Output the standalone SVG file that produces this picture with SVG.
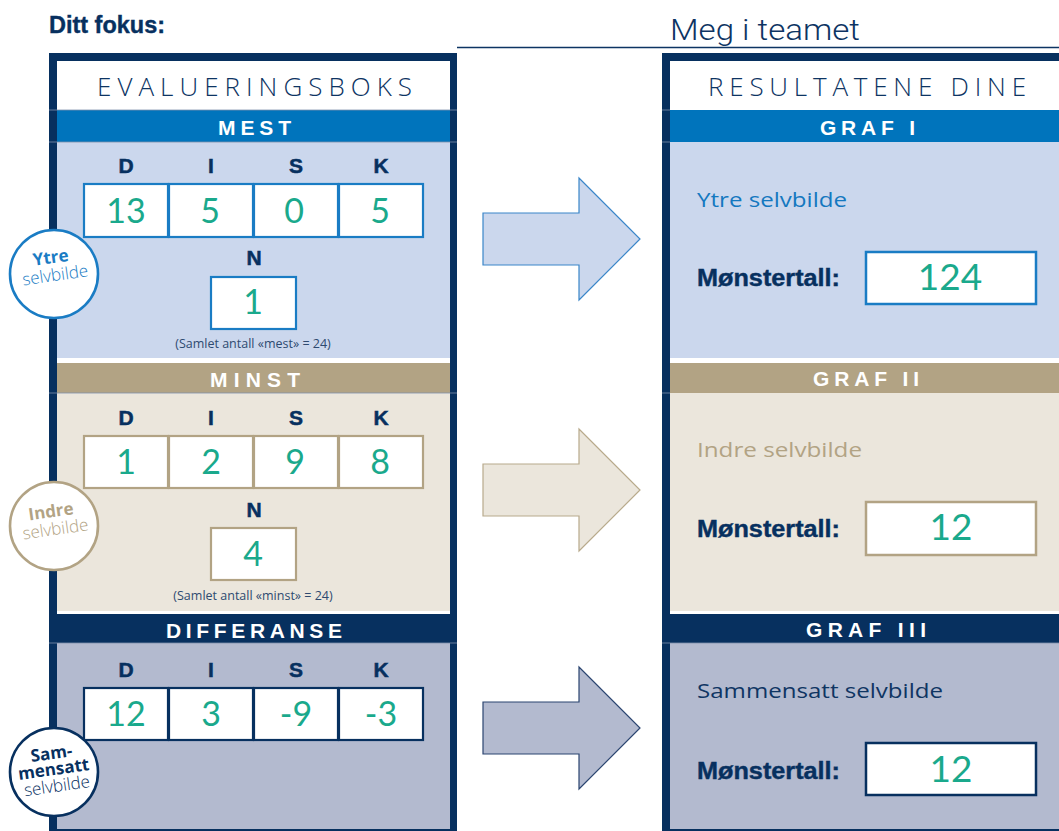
<svg xmlns="http://www.w3.org/2000/svg" width="1059" height="831" viewBox="0 0 1059 831">
<style>
.navy{fill:#07305f}
.hdr{font-family:"Open Sans","Liberation Sans",sans-serif;font-weight:300;font-size:26px;fill:#0d3463}
.bar{font-family:"Liberation Sans",Arial,sans-serif;font-weight:bold;font-size:21px;fill:#ffffff}
.disk{font-family:"Liberation Sans",Arial,sans-serif;font-weight:bold;font-size:21px;fill:#07305f;text-anchor:middle;stroke:#07305f;stroke-width:0.5}
.hand{font-family:"Lato","Open Sans",sans-serif;font-weight:400;font-size:34px;fill:#1aa98c;text-anchor:middle}
.handb{font-family:"Lato","Open Sans",sans-serif;font-weight:400;font-size:37px;fill:#1aa98c;text-anchor:middle}
.cap{font-family:"Open Sans","Liberation Sans",sans-serif;font-size:12.5px;fill:#2e4a70;text-anchor:middle}
.cb{stroke:#1a7cc4;stroke-width:2.2;fill:#fff}
.ct{stroke:#b2a384;stroke-width:2.2;fill:#fff}
.cn{stroke:#07305f;stroke-width:2.2;fill:#fff}
.lab{font-family:"Open Sans","Liberation Sans",sans-serif;font-size:20px}
.mon{font-family:"Liberation Sans",Arial,sans-serif;font-weight:bold;font-size:23px;fill:#07305f;stroke:#07305f;stroke-width:0.4}
.cbold{font-family:"Open Sans","Liberation Sans",sans-serif;font-weight:bold;font-size:17px;text-anchor:middle}
.clight{font-family:"Open Sans","Liberation Sans",sans-serif;font-weight:300;font-size:17px;text-anchor:middle}
.faint{stroke:#7d90ab;stroke-width:0.8}
</style>

<!-- Title -->
<g id="title">
<text x="49" y="33" textLength="116" lengthAdjust="spacingAndGlyphs" style="font-family:'Liberation Sans',Arial,sans-serif;font-weight:bold;font-size:24px;fill:#07305f;stroke:#07305f;stroke-width:0.4">Ditt fokus:</text>
<text x="670" y="40" textLength="190" lengthAdjust="spacingAndGlyphs" style="font-family:Roboto,'Liberation Sans',sans-serif;font-weight:300;font-size:30px;fill:#0d3463">Meg i teamet</text>
<line x1="457" y1="47.5" x2="1059" y2="47.5" stroke="#0d3463" stroke-width="1.5"/>
</g>

<!-- Left panel -->
<g id="evalueringsboks">
<rect x="49" y="53" width="408" height="778" class="navy"/>
<rect x="57" y="61" width="393" height="768" fill="#ffffff"/>
<rect x="57" y="110" width="393" height="32" fill="#0074bc"/>
<rect x="57" y="142" width="393" height="216" fill="#cbd7ed"/>
<rect x="57" y="363" width="393" height="30" fill="#b2a384"/>
<rect x="57" y="393" width="393" height="218" fill="#ebe6dc"/>
<rect x="57" y="614" width="393" height="29" class="navy"/>
<rect x="57" y="643" width="393" height="186" fill="#b3bacf"/>
<line x1="49" y1="110" x2="457" y2="110" class="faint"/>
<line x1="49" y1="142" x2="457" y2="142" class="faint"/>
<line x1="49" y1="393" x2="457" y2="393" class="faint"/>
<line x1="49" y1="643" x2="457" y2="643" class="faint"/>
<text x="97" y="96" textLength="315" lengthAdjust="spacing" class="hdr">EVALUERINGSBOKS</text>
<text x="218" y="135" textLength="73" lengthAdjust="spacing" class="bar">MEST</text>
<text x="210" y="386.5" textLength="90" lengthAdjust="spacing" class="bar">MINST</text>
<text x="166" y="637.5" textLength="176" lengthAdjust="spacing" class="bar">DIFFERANSE</text>
</g>

<!-- MEST section -->
<g id="mest">
<text x="126" y="173" class="disk">D</text>
<text x="211" y="173" class="disk">I</text>
<text x="296" y="173" class="disk">S</text>
<text x="381" y="173" class="disk">K</text>
<rect x="84" y="184" width="84" height="53" class="cb"/>
<rect x="169" y="184" width="84" height="53" class="cb"/>
<rect x="254" y="184" width="84" height="53" class="cb"/>
<rect x="339" y="184" width="84" height="53" class="cb"/>
<text x="126" y="223" class="hand">13</text>
<text x="210" y="223" class="hand">5</text>
<text x="294" y="223" class="hand">0</text>
<text x="380" y="223" class="hand">5</text>
<text x="254" y="265" class="disk">N</text>
<rect x="211" y="277" width="85" height="52" class="cb"/>
<text x="253" y="314" class="hand">1</text>
<text x="253" y="348" class="cap">(Samlet antall «mest» = 24)</text>
</g>

<!-- MINST section -->
<g id="minst">
<text x="126" y="425" class="disk">D</text>
<text x="211" y="425" class="disk">I</text>
<text x="296" y="425" class="disk">S</text>
<text x="381" y="425" class="disk">K</text>
<rect x="84" y="436" width="84" height="52" class="ct"/>
<rect x="169" y="436" width="84" height="52" class="ct"/>
<rect x="254" y="436" width="84" height="52" class="ct"/>
<rect x="339" y="436" width="84" height="52" class="ct"/>
<text x="126" y="474" class="hand">1</text>
<text x="211" y="474" class="hand">2</text>
<text x="295" y="474" class="hand">9</text>
<text x="380" y="474" class="hand">8</text>
<text x="254" y="517" class="disk">N</text>
<rect x="211" y="528" width="85" height="52" class="ct"/>
<text x="253" y="566" class="hand">4</text>
<text x="253" y="600" class="cap">(Samlet antall «minst» = 24)</text>
</g>

<!-- DIFFERANSE section -->
<g id="differanse">
<text x="126" y="677" class="disk">D</text>
<text x="211" y="677" class="disk">I</text>
<text x="296" y="677" class="disk">S</text>
<text x="381" y="677" class="disk">K</text>
<rect x="84" y="688" width="84" height="52" class="cn"/>
<rect x="169" y="688" width="84" height="52" class="cn"/>
<rect x="254" y="688" width="84" height="52" class="cn"/>
<rect x="339" y="688" width="84" height="52" class="cn"/>
<text x="126" y="726" class="hand">12</text>
<text x="211" y="726" class="hand">3</text>
<text x="296" y="726" class="hand">-9</text>
<text x="381" y="726" class="hand">-3</text>
</g>

<!-- Circles -->
<g id="circle-ytre">
<circle cx="54" cy="274" r="44" fill="#fff" stroke="#1a7cc4" stroke-width="2.6"/>
<g transform="rotate(-8 54 274)">
<text x="53" y="263" class="cbold" fill="#1a7cc4">Ytre</text>
<text x="55" y="281" class="clight" fill="#1a7cc4">selvbilde</text>
</g>
</g>
<g id="circle-indre">
<circle cx="54" cy="526" r="44" fill="#fff" stroke="#b2a384" stroke-width="2.6"/>
<g transform="rotate(-8 54 526)">
<text x="53" y="517" class="cbold" fill="#b2a384">Indre</text>
<text x="55" y="535" class="clight" fill="#b2a384">selvbilde</text>
</g>
</g>
<g id="circle-sammensatt">
<circle cx="54" cy="772" r="44" fill="#fff" stroke="#07305f" stroke-width="2.6"/>
<g transform="rotate(-8 54 772)">
<text x="54" y="759" class="cbold" fill="#07305f">Sam-</text>
<text x="54" y="775" class="cbold" fill="#07305f">mensatt</text>
<text x="55" y="792" class="clight" fill="#07305f">selvbilde</text>
</g>
</g>

<!-- Connectors (arrows) -->
<g id="connectors">
<polygon points="483,213 579,213 579,178 640,239 579,300 579,265 483,265" fill="#cbd7ed" stroke="#3a86c9" stroke-width="1.2"/>
<polygon points="483,464 579,464 579,429 640,490 579,551 579,516 483,516" fill="#ebe6dc" stroke="#b8aa8c" stroke-width="1.2"/>
<polygon points="483,702 579,702 579,667 640,728 579,789 579,754 483,754" fill="#b3bacf" stroke="#2b4570" stroke-width="1.2"/>
</g>

<!-- Right panel -->
<g id="resultatene">
<rect x="662" y="53" width="420" height="778" class="navy"/>
<rect x="670" y="61" width="412" height="768" fill="#ffffff"/>
<rect x="670" y="110" width="412" height="32" fill="#0074bc"/>
<rect x="670" y="142" width="412" height="216" fill="#cbd7ed"/>
<rect x="670" y="363" width="412" height="30" fill="#b2a384"/>
<rect x="670" y="393" width="412" height="218" fill="#ebe6dc"/>
<rect x="670" y="614" width="412" height="29" class="navy"/>
<rect x="670" y="643" width="412" height="186" fill="#b3bacf"/>
<line x1="662" y1="110" x2="670" y2="110" class="faint"/>
<line x1="662" y1="142" x2="670" y2="142" class="faint"/>
<line x1="662" y1="393" x2="670" y2="393" class="faint"/>
<line x1="662" y1="643" x2="1059" y2="643" class="faint"/>
<text x="708" y="96" textLength="318" lengthAdjust="spacing" class="hdr">RESULTATENE DINE</text>
<text x="820" y="134.5" textLength="95" lengthAdjust="spacing" class="bar">GRAF I</text>
<text x="813" y="386" textLength="106" lengthAdjust="spacing" class="bar">GRAF II</text>
<text x="806" y="637" textLength="120" lengthAdjust="spacing" class="bar">GRAF III</text>
</g>

<g id="graf1">
<text x="697" y="207" textLength="150" lengthAdjust="spacingAndGlyphs" class="lab" fill="#1478c0">Ytre selvbilde</text>
<text x="697" y="286" textLength="143" lengthAdjust="spacingAndGlyphs" class="mon">Mønstertall:</text>
<rect x="866" y="252" width="170" height="52" fill="#fff" stroke="#1a7cc4" stroke-width="2.5"/>
<text x="950" y="290" class="handb">124</text>
</g>
<g id="graf2">
<text x="697" y="457" textLength="165" lengthAdjust="spacingAndGlyphs" class="lab" fill="#b2a384">Indre selvbilde</text>
<text x="697" y="537" textLength="143" lengthAdjust="spacingAndGlyphs" class="mon">Mønstertall:</text>
<rect x="866" y="502" width="170" height="53" fill="#fff" stroke="#b2a384" stroke-width="2.5"/>
<text x="951" y="540" class="handb">12</text>
</g>
<g id="graf3">
<text x="697" y="698" textLength="246" lengthAdjust="spacingAndGlyphs" class="lab" fill="#0f3563">Sammensatt selvbilde</text>
<text x="697" y="779" textLength="143" lengthAdjust="spacingAndGlyphs" class="mon">Mønstertall:</text>
<rect x="866" y="743" width="170" height="52" fill="#fff" stroke="#07305f" stroke-width="2.5"/>
<text x="951" y="782" class="handb">12</text>
</g>
</svg>
